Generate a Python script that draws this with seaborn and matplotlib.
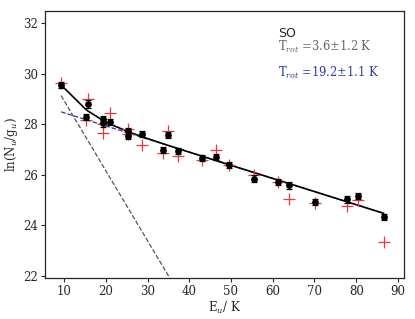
import numpy as np
import pandas as pd
import matplotlib
matplotlib.use("Agg")
import matplotlib.pyplot as plt
import seaborn as sns

# upper-level energies (K) and column densities
E_u = [9.3, 15.2, 15.8, 19.4, 19.4, 21.0, 25.4, 25.4, 28.6, 33.8, 35.0,
       37.4, 43.0, 46.4, 49.6, 55.4, 61.2, 63.9, 70.1, 77.9, 80.4, 86.6]
ln_obs = [29.57, 28.30, 28.80, 28.20, 28.05, 28.10, 27.72, 27.55, 27.62, 26.97, 27.56,
          26.93, 26.65, 26.70, 26.40, 25.85, 25.73, 25.58, 24.92, 25.02, 25.15, 24.32]
ln_err = [0.12, 0.12, 0.15, 0.15, 0.15, 0.12, 0.15, 0.15, 0.12, 0.12, 0.12,
          0.12, 0.12, 0.12, 0.12, 0.13, 0.12, 0.15, 0.10, 0.15, 0.12, 0.13]
ln_mod = [29.64, 28.18, 29.00, 27.66, 28.00, 28.44, 27.80, 27.60, 27.20, 26.87, 27.75,
          26.75, 26.60, 27.00, 26.40, 25.98, 25.72, 25.05, 24.88, 24.75, 25.00, 23.33]

# two-component rotation diagram fit
T_cold, b_cold = 3.6, 31.72
T_warm, b_warm = 19.2, 28.98

df = pd.DataFrame({"E": E_u, "obs": ln_obs, "err": ln_err, "mod": ln_mod})

e_fit = np.array(sorted(set(E_u)))
cold = b_cold - e_fit / T_cold
warm = b_warm - e_fit / T_warm
total = np.logaddexp(cold, warm)

sns.set_theme(style="ticks")
plt.rcParams["font.family"] = ["DejaVu Serif"]
plt.rcParams["mathtext.fontset"] = "dejavuserif"

fig, ax = plt.subplots(figsize=(4.15, 3.19), dpi=100)

sns.lineplot(x=e_fit, y=cold, ax=ax, color="#555555", lw=0.9, ls="--", zorder=1)
sns.lineplot(x=e_fit, y=warm, ax=ax, color="#2b3aa0", lw=0.9, ls="--", zorder=1)
sns.lineplot(x=e_fit, y=total, ax=ax, color="black", lw=1.2, zorder=2)

sns.scatterplot(data=df, x="E", y="mod", ax=ax, marker="+", s=75, color="#e8383b",
                linewidth=0.9, zorder=3)
ax.errorbar(df["E"], df["obs"], yerr=df["err"], fmt="none", ecolor="black",
            elinewidth=0.9, capsize=2, capthick=0.9, zorder=4)
sns.scatterplot(data=df, x="E", y="obs", ax=ax, color="black", s=24,
                edgecolor="black", linewidth=0, zorder=5)

ax.set_xlim(5.4, 91.4)
ax.set_ylim(21.9, 32.5)
ax.set_xticks(range(10, 100, 10))
ax.set_yticks(range(22, 33, 2))
ax.tick_params(labelsize=8.5, length=3, width=0.8, pad=2)
for s in ax.spines.values():
    s.set_linewidth(0.9)
    s.set_visible(True)

ax.set_xlabel(r"E$_u$/ K", fontsize=8.5, labelpad=1)
ax.set_ylabel(r"ln(N$_u$/g$_u$)", fontsize=8.5, labelpad=2)

ax.text(0.649, 0.917, "SO", transform=ax.transAxes, fontsize=9,
        family="DejaVu Sans", va="center")
ax.text(0.649, 0.866, r"T$_{rot}$ =3.6$\pm$1.2 K", transform=ax.transAxes,
        fontsize=8.3, color="#666666", va="center")
ax.text(0.649, 0.768, r"T$_{rot}$ =19.2$\pm$1.1 K", transform=ax.transAxes,
        fontsize=8.3, color="#2b3aa0", va="center")

fig.subplots_adjust(left=0.108, right=0.973, top=0.966, bottom=0.128)
fig.savefig("out.png", dpi=100)
